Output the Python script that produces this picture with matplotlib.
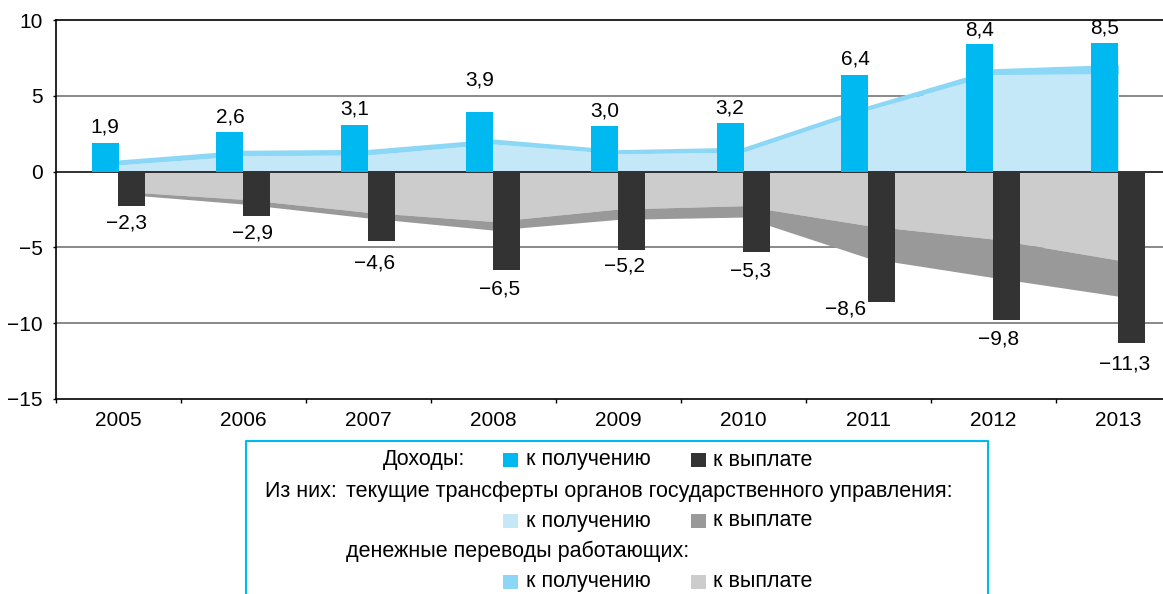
import numpy as np
import matplotlib
matplotlib.use('Agg')
from matplotlib import pyplot as plt
from matplotlib.patches import Rectangle
from matplotlib.lines import Line2D

years = ['2005', '2006', '2007', '2008', '2009', '2010', '2011', '2012', '2013']
income_recv = [1.9, 2.6, 3.1, 3.9, 3.0, 3.2, 6.4, 8.4, 8.5]
income_paid = [-2.3, -2.9, -4.6, -6.5, -5.2, -5.3, -8.6, -9.8, -11.3]
# текущие трансферты органов госуправления
gov_recv = [0.44, 1.04, 1.10, 1.82, 1.17, 1.28, 4.06, 6.40, 6.45]
gov_paid = [-0.17, -0.31, -0.37, -0.57, -0.68, -0.75, -2.14, -2.54, -2.38]
# денежные переводы работающих
remit_recv = [0.33, 0.37, 0.37, 0.33, 0.28, 0.33, 0.30, 0.39, 0.62]
remit_paid = [-1.30, -1.83, -2.69, -3.29, -2.47, -2.25, -3.57, -4.45, -5.84]

# label nudges in pixels
pos_gap = [6, 6, 6, 23, 6, 6, 6, 5, 5]
neg_dx = [-5.5, -4.6, -7.8, -7.1, -7.5, -6.5, -36, -8.5, -7.5]
neg_gap = [7, 8, 12, 9, 6, 10, -2, 9, 12]

C_CYAN = '#00b9f0'
C_DARK = '#333333'
C_LBLUE = '#c5e8f8'
C_MBLUE = '#8dd7f6'
C_LGREY = '#cccccc'
C_DGREY = '#999999'

FONT = ['Liberation Sans', 'DejaVu Sans']
plt.rcParams['font.family'] = FONT
plt.rcParams['font.size'] = 15.5

W, H = 1163, 594
fig = plt.figure(figsize=(W / 100, H / 100), dpi=100)
ax = fig.add_axes([56 / W, (H - 399) / H, 1125 / W, 379 / H])

x = np.arange(len(years))
gr = np.array(gov_recv)
rr = gr + np.array(remit_recv)
rp = np.array(remit_paid)
gp = rp + np.array(gov_paid)

ax.fill_between(x, 0, gr, color=C_LBLUE, lw=0, zorder=1)
ax.fill_between(x, gr, rr, color=C_MBLUE, lw=0, zorder=1)
ax.fill_between(x, 0, rp, color=C_LGREY, lw=0, zorder=1)
ax.fill_between(x, rp, gp, color=C_DGREY, lw=0, zorder=1)

for yv in [5, -5, -10]:
    ax.axhline(yv, color='#808080', lw=1.3, zorder=0)
ax.axhline(0, color='#222222', lw=1.3, zorder=2)

bw = 0.216
ax.bar(x - bw / 2, income_recv, width=bw, color=C_CYAN, zorder=3)
ax.bar(x + bw / 2, income_paid, width=bw, color=C_DARK, zorder=3)

k = 0.72  # px -> pt
for i in range(len(years)):
    ax.annotate(f'{income_recv[i]:.1f}'.replace('.', ','), (x[i] - bw / 2, income_recv[i]),
                xytext=(0, pos_gap[i] * k), textcoords='offset points',
                ha='center', va='bottom', fontsize=15, zorder=4)
    ax.annotate('\u2212' + f'{-income_paid[i]:.1f}'.replace('.', ','), (x[i] + bw / 2, income_paid[i]),
                xytext=(neg_dx[i] * k, -neg_gap[i] * k), textcoords='offset points',
                ha='center', va='top', fontsize=15, zorder=4)

ax.set_xlim(-0.5, 8.5)
ax.set_ylim(-15, 10)
ax.set_yticks([-15, -10, -5, 0, 5, 10])
ax.set_yticklabels(['\u221215', '\u221210', '\u22125', '0', '5', '10'])
ax.set_xticks(x)
ax.set_xticklabels(years)
ax.set_xticks(np.arange(-0.5, 9, 1), minor=True)
ax.tick_params(axis='x', which='major', length=0, pad=9, labelsize=15)
ax.tick_params(axis='x', which='minor', length=3, width=1)
ax.tick_params(axis='y', length=2.5, width=1, pad=7, labelsize=15)
for s in ['left', 'top', 'bottom']:
    ax.spines[s].set_linewidth(1.2)
ax.spines['right'].set_visible(False)

# legend panel
def fx(px):
    return px / W

def fy(py):
    return 1 - py / H

fig.add_artist(Line2D([fx(246), fx(246), fx(988), fx(988)], [0, fy(441), fy(441), 0],
                      color=C_CYAN, lw=1.5))

def swatch(px, py, color):
    fig.add_artist(Rectangle((fx(px), fy(py + 7)), 15 / W, 14 / H, color=color, lw=0))

rows = [460, 491.5, 521, 551.5, 581.5]
fig.text(fx(465), fy(rows[0]), 'Доходы:', ha='right', va='center')
fig.text(fx(337), fy(rows[1]), 'Из них:', ha='right', va='center')
fig.text(fx(346), fy(rows[1]), 'текущие трансферты органов государственного управления:', ha='left', va='center')
fig.text(fx(346), fy(rows[3]), 'денежные переводы работающих:', ha='left', va='center')
for row, c1, c2 in [(rows[0], C_CYAN, C_DARK), (rows[2], C_LBLUE, C_DGREY), (rows[4], C_MBLUE, C_LGREY)]:
    swatch(503, row, c1)
    fig.text(fx(526), fy(row), 'к получению', ha='left', va='center')
    swatch(691, row, c2)
    fig.text(fx(713), fy(row), 'к выплате', ha='left', va='center')

fig.savefig('out.png', dpi=100)
